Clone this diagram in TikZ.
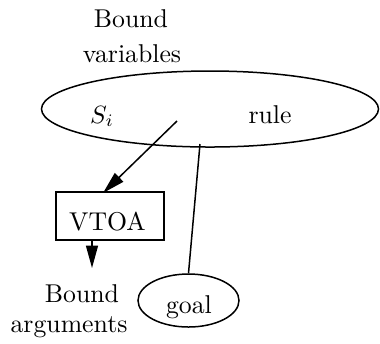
\documentclass[tikz,border=0pt]{standalone}
\usetikzlibrary{arrows.meta,shapes.geometric}
\begin{document}
\begin{tikzpicture}[x=0.4pt,y=-0.4pt,
  every node/.style={font=\fontsize{10.3}{12}\selectfont, inner sep=0pt},
  lbl/.style={anchor=base},
  conn/.style={line width=0.6pt},
  arr/.style={conn,-{Triangle[length=9pt,width=4.8pt]}},
  oval/.style={draw,ellipse,line width=0.6pt}]
\useasboundingbox (0,0) rectangle (380,343);
\node[oval,minimum width=337*0.4pt,minimum height=76*0.4pt] (rulebox) at (210,109) {};
\node[lbl] (si) at (102,123) {$S_i$};
\node[lbl] (rule) at (270,123) {rule};
\node[lbl] (bv1) at (131,27) {Bound};
\node[lbl] (bv2) at (132,62) {variables};
\node[draw,line width=0.6pt,minimum width=108*0.4pt,minimum height=48*0.4pt] (vtoa) at (110,216) {};
\node[lbl] at (107.5,230) (vtoatxt) {VTOA};
\node[oval,minimum width=101*0.4pt,minimum height=53*0.4pt] (goal) at (188.5,300.5) {};
\node[lbl] (goaltxt) at (189,313) {goal};
\node[lbl] (ba1) at (82,302) {Bound};
\node[lbl] (ba2) at (69,332) {arguments};
\coordinate (src) at (177,121);
\coordinate (tip) at (103,193);
\coordinate (rb) at (200,144);
\coordinate (vb) at (92,240);
\coordinate (vt) at (92,268);
\draw[arr] (src) -- (tip);
\draw[conn] (rb) -- (goal.north);
\draw[arr] (vb) -- (vt);
\end{tikzpicture}
\end{document}
